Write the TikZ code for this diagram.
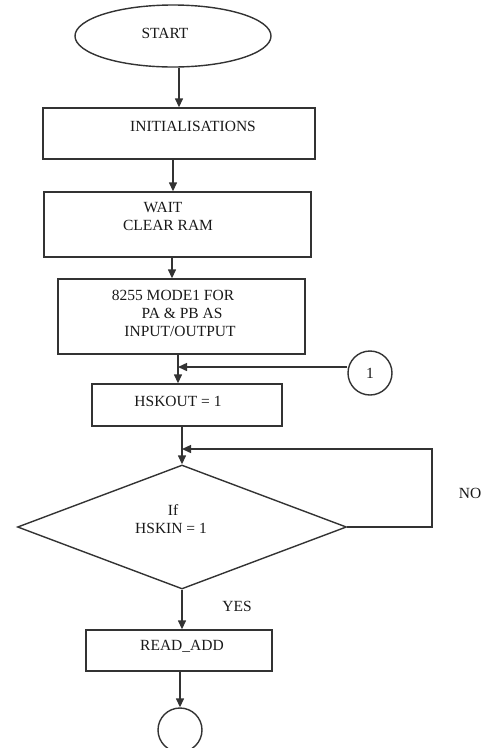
\documentclass[tikz,border=0pt]{standalone}
\usepackage{fontspec}
\setmainfont{Liberation Serif}
\usetikzlibrary{shapes.geometric,arrows.meta}
\begin{document}
\begin{tikzpicture}[x=1pt,y=-1pt,
  ln/.style={line width=1.4pt,draw=black!80},
  arr/.style={ln,-{Triangle[length=9pt,width=8pt]}},
  boxn/.style={ln,rectangle,inner sep=0pt},
  txt/.style={inner sep=0pt,anchor=base,font=\fontsize{15.5}{18}\selectfont,text=black!90}
]
\useasboundingbox (0,0) rectangle (488,748);
% shapes
\node[ln,ellipse,inner sep=0pt,minimum width=196pt,minimum height=62pt] (start) at (173,36) {};
\node[boxn,minimum width=272pt,minimum height=51pt] (init) at (179,133.5) {};
\node[boxn,minimum width=267pt,minimum height=65pt] (wait) at (177.5,224.5) {};
\node[boxn,minimum width=247pt,minimum height=75pt] (mode) at (181.5,316.5) {};
\node[ln,circle,inner sep=0pt,minimum size=44pt] (con1) at (370,373) {};
\node[boxn,minimum width=190pt,minimum height=42pt] (hsk) at (187,405) {};
\node[ln,diamond,inner sep=0pt,minimum width=329pt,minimum height=124pt] (dec) at (182,527) {};
\node[boxn,minimum width=186pt,minimum height=41pt] (read) at (179,650.5) {};
\node[ln,circle,inner sep=0pt,minimum size=44pt] (endc) at (180,730) {};
% texts
\node[txt] (tstart) at (165,38) {START};
\node[txt] (tinit) at (193,131) {INITIALISATIONS};
\node[txt] (twait1) at (163,212) {WAIT};
\node[txt] (twait2) at (168,230) {CLEAR RAM};
\node[txt] (tmode1) at (173,300) {8255 MODE1 FOR};
\node[txt] (tmode2) at (182,318) {PA \& PB AS};
\node[txt] (tmode3) at (180,336) {INPUT/OUTPUT};
\node[txt] (tcon1) at (370,378) {1};
\node[txt] (thsk) at (178,406) {HSKOUT = 1};
\node[txt] (tif) at (173,515) {If};
\node[txt] (thskin) at (171,533) {HSKIN = 1};
\node[txt] (tno) at (470,498) {NO};
\node[txt] (tyes) at (237,611) {YES};
\node[txt] (tread) at (182,650) {READ\_ADD};
% arrow x positions
\coordinate (a1) at (179,0);
\coordinate (a2) at (173,0);
\coordinate (a3) at (172,0);
\coordinate (a4) at (178,0);
\coordinate (a5) at (182,0);
\coordinate (a7) at (180,0);
\coordinate (loopx) at (432,0);
\coordinate (loopy) at (0,449);
\coordinate (c1y) at (0,367);
% connectors
\draw[arr] (start.south -| a1) -- (init.north -| a1);
\draw[arr] (init.south -| a2) -- (wait.north -| a2);
\draw[arr] (wait.south -| a3) -- (mode.north -| a3);
\draw[arr] (mode.south -| a4) -- (hsk.north -| a4);
\draw[arr] (con1.west |- c1y) -- (a4 |- c1y);
\draw[arr] (hsk.south -| a5) -- (dec.north);
\draw[arr] (dec.east) -- (loopx |- dec.east) -- (loopx |- loopy) -- (a5 |- loopy);
\draw[arr] (dec.south) -- (read.north -| a5);
\draw[arr] (read.south -| a7) -- (endc.north);
\end{tikzpicture}
\end{document}
